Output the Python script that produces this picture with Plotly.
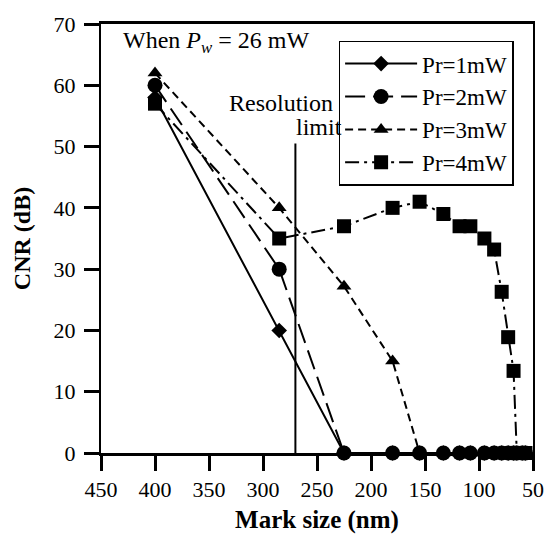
import plotly.graph_objects as go

# Mark sizes (nm) shared by all series
mark_size = [400, 285, 225, 180, 155, 133, 118, 108, 95, 86, 79, 73, 68, 65, 60, 57]

cnr_1mw = [58, 20, 0, 0, 0, 0, 0, 0, 0, 0, 0, 0, 0, 0, 0, 0]
cnr_2mw = [60, 30, 0, 0, 0, 0, 0, 0, 0, 0, 0, 0, 0, 0, 0, 0]
cnr_3mw = [62, 40, 27.2, 15, 0, 0, 0, 0, 0, 0, 0, 0, 0, 0, 0, 0]
cnr_4mw = [57, 35, 37, 40, 41, 39, 37, 37, 35, 33.2, 26.3, 18.9, 13.4, 0, 0, 0]

series_names = ["Pr=1mW", "Pr=2mW", "Pr=3mW", "Pr=4mW"]
x_ticks = [450, 400, 350, 300, 250, 200, 150, 100, 50]
y_ticks = [0, 10, 20, 30, 40, 50, 60, 70]

resolution_limit = 270
resolution_line_top = 50.5

FONT = "Liberation Serif, Times New Roman, serif"

# plot area in pixels: x 101..541, y 15..453
L, R, T, B = 101, 541, 15, 453
def px(xp):
    return (xp - L) / (R - L)
def py(yp):
    return 1.0 - (yp - T) / (B - T)

fig = go.Figure()

styles = [
    (cnr_1mw, "solid", "diamond", 12),
    (cnr_2mw, "20px,8px", "circle", 15),
    (cnr_3mw, "8px,5px", "triangle-up", 13),
    (cnr_4mw, "14px,5px,3px,5px", "square", 14),
]
for name, (vals, dash, sym, size) in zip(series_names, styles):
    fig.add_trace(go.Scatter(
        x=mark_size, y=vals, name=name, mode="lines+markers",
        line=dict(color="black", width=2, dash=dash),
        marker=dict(color="black", symbol=sym, size=size),
        cliponaxis=False,
    ))

# Resolution limit vertical line
fig.add_trace(go.Scatter(
    x=[resolution_limit, resolution_limit], y=[0, resolution_line_top],
    mode="lines", line=dict(color="black", width=2), showlegend=False,
    hoverinfo="skip",
))

fig.add_annotation(
    x=px(121), y=py(33), xref="paper", yref="paper",
    text="When <i>P</i><sub><i>w</i></sub> = 26 mW", showarrow=False,
    xanchor="left", yanchor="middle",
    font=dict(family=FONT, size=24, color="black"),
)
fig.add_annotation(
    x=px(339), y=py(96), xref="paper", yref="paper",
    text="Resolution", showarrow=False,
    xanchor="right", yanchor="middle",
    font=dict(family=FONT, size=24, color="black"),
)
fig.add_annotation(
    x=px(349), y=py(120), xref="paper", yref="paper",
    text="limit", showarrow=False,
    xanchor="right", yanchor="middle",
    font=dict(family=FONT, size=24, color="black"),
)

fig.update_layout(
    width=556, height=542,
    margin=dict(l=L, r=556 - R, t=T, b=542 - B),
    paper_bgcolor="white", plot_bgcolor="white",
    font=dict(family=FONT, size=22, color="black"),
    showlegend=True,
    legend=dict(
        x=px(343), y=py(32),
        xanchor="left", yanchor="top",
        bordercolor="black", borderwidth=1.5, bgcolor="white",
        font=dict(family=FONT, size=23, color="black"),
        itemwidth=72, tracegroupgap=0,
    ),
    xaxis=dict(
        range=[450, 50], tickmode="array", tickvals=x_ticks,
        ticks="outside", ticklen=15, tickwidth=2.5, tickcolor="black",
        showline=True, linecolor="black", linewidth=2.5, mirror=True,
        showgrid=False, zeroline=False,
        title=dict(text="<b>Mark size (nm)</b>", font=dict(family=FONT, size=25), standoff=10),
        tickfont=dict(family=FONT, size=22),
    ),
    yaxis=dict(
        range=[0, 70], tickmode="array", tickvals=y_ticks,
        ticks="outside", ticklen=15, tickwidth=2.5, tickcolor="black",
        showline=True, linecolor="black", linewidth=2, mirror=True,
        showgrid=False, zeroline=False,
        title=dict(text="<b>CNR (dB)</b>", font=dict(family=FONT, size=24), standoff=16),
        tickfont=dict(family=FONT, size=22),
        ticklabelstandoff=4,
    ),
)

fig.write_html("out.html")
